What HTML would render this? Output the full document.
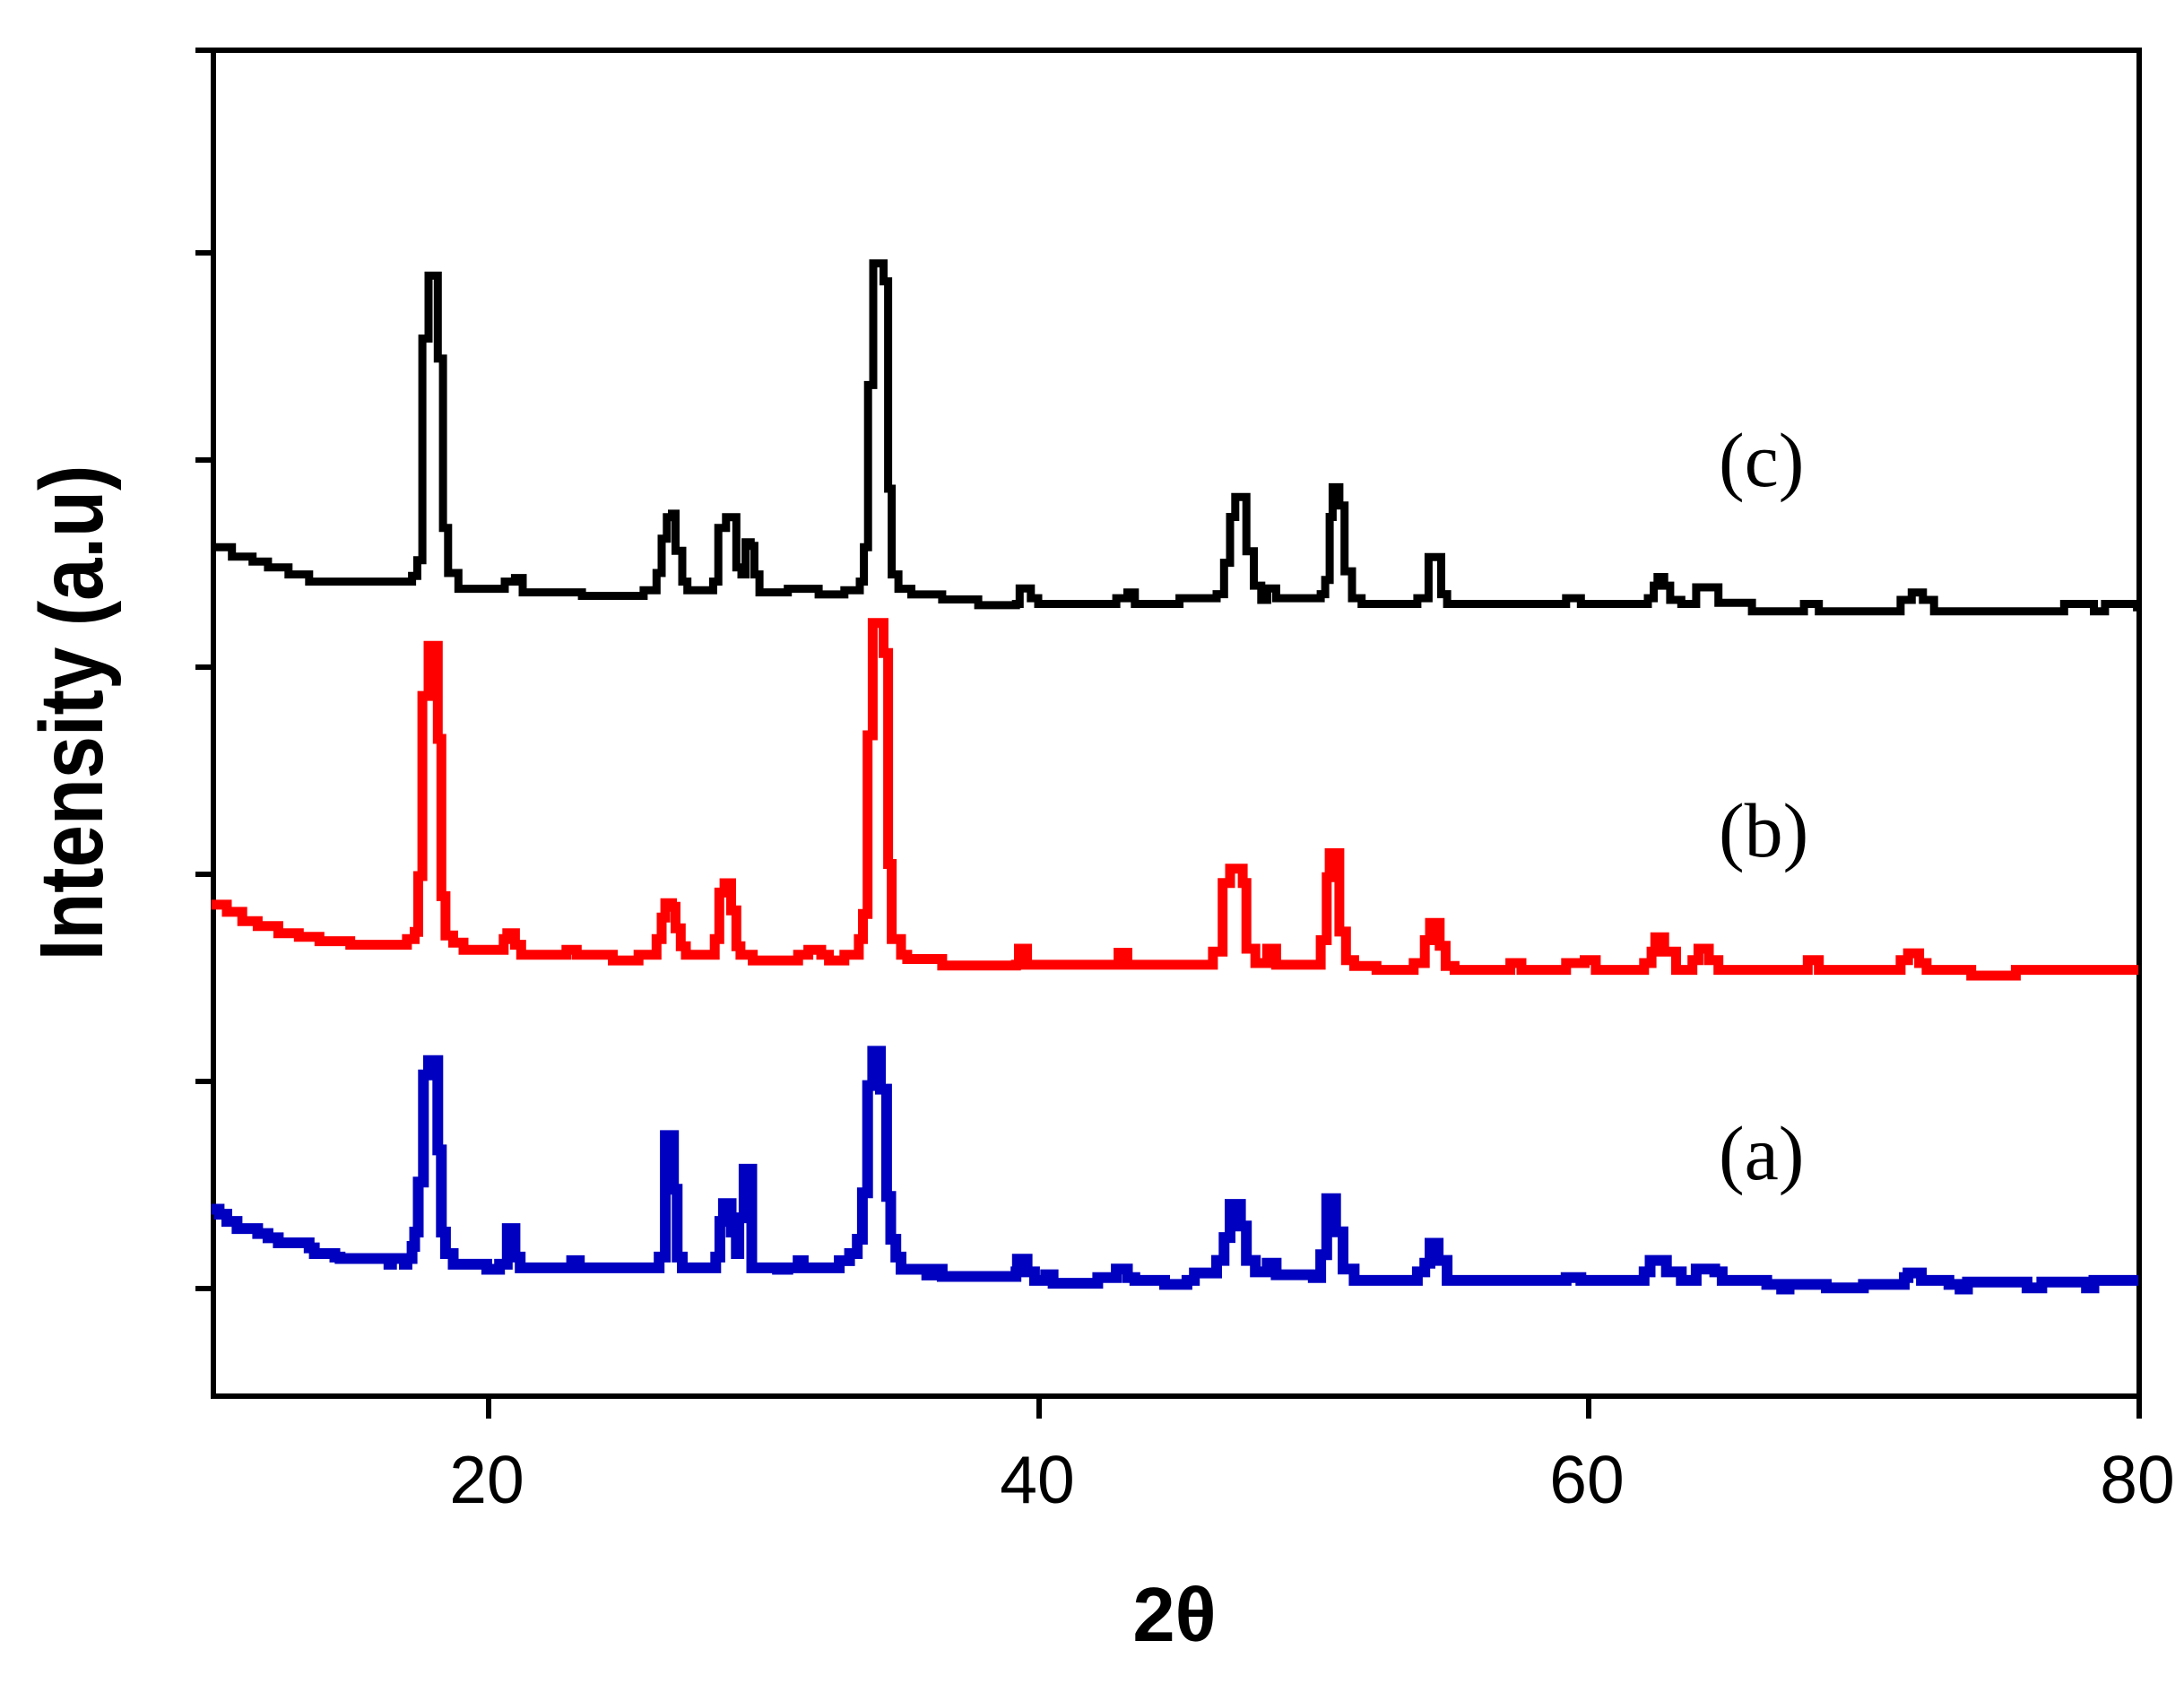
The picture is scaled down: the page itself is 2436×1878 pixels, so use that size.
<!DOCTYPE html>
<html><head><meta charset="utf-8"><style>
html,body{margin:0;padding:0;background:#fff;}
svg{display:block;}
</style></head><body>
<svg id="s" width="2436" height="1878" viewBox="0 0 2436 1878" xmlns="http://www.w3.org/2000/svg">
<rect width="2436" height="1878" fill="#fff"/>
<g stroke="#000" stroke-width="6" fill="none" stroke-linecap="butt">
<line x1="218" y1="56" x2="2389" y2="56"/>
<line x1="238" y1="53" x2="238" y2="1560"/>
<line x1="2386" y1="53" x2="2386" y2="1560"/>
<line x1="235" y1="1557" x2="2389" y2="1557"/>
<line x1="218" y1="282" x2="238" y2="282"/>
<line x1="218" y1="513" x2="238" y2="513"/>
<line x1="218" y1="744" x2="238" y2="744"/>
<line x1="218" y1="975" x2="238" y2="975"/>
<line x1="218" y1="1206" x2="238" y2="1206"/>
<line x1="218" y1="1437" x2="238" y2="1437"/>
<line x1="545" y1="1557" x2="545" y2="1582"/>
<line x1="1159" y1="1557" x2="1159" y2="1582"/>
<line x1="1772" y1="1557" x2="1772" y2="1582"/>
<line x1="2386" y1="1557" x2="2386" y2="1582"/>
</g>
<g font-family="Liberation Sans, sans-serif" font-size="75" fill="#000" text-anchor="middle">
<text x="543" y="1676">20</text>
<text x="1157" y="1676">40</text>
<text x="1770" y="1676">60</text>
<text x="2384" y="1676">80</text>
</g>
<text x="1310" y="1830" font-family="Liberation Sans, sans-serif" font-weight="bold" font-size="85" text-anchor="middle">2θ</text>
<text transform="translate(114,795) rotate(-90) scale(0.85,1)" font-family="Liberation Sans, sans-serif" font-weight="bold" font-size="100" text-anchor="middle">Intensity (a.u)</text>
<g font-family="Liberation Serif, serif" font-size="86" fill="#000">
<text x="1917" y="542">(c)</text>
<text x="1917" y="955">(b)</text>
<text x="1917" y="1315">(a)</text>
</g>
<path id="pc" fill="none" stroke="#000" stroke-width="9" stroke-linejoin="miter"/>
<path id="pb" fill="none" stroke="#ff0000" stroke-width="11" stroke-linejoin="miter"/>
<path id="pa" fill="none" stroke="#0000c0" stroke-width="12" stroke-linejoin="miter"/>
</svg>
<script>
function z7(p){return [230+p[0]/1.742, 250+p[1]/1.2544];}
function z8(p){return [1100+p[0]/1.206, 500+p[1]/1.568];}
function build(a7,a8){
  var pts=a7.map(z7).concat(a8.map(z8));
  var d="M"+pts[0][0].toFixed(1)+" "+pts[0][1].toFixed(1);
  for(var i=1;i<pts.length;i++){d+=" H"+pts[i][0].toFixed(1)+" V"+pts[i][1].toFixed(1);}
  return d;
}
var c7=[[10,452],[50,465],[90,472],[120,480],[160,490],[200,500],[400,492],[410,470],[420,160],[432,72],[448,72],[450,188],[458,188],[460,425],[470,488],[490,510],[580,500],[600,495],[615,515],[720,515],[730,520],[850,512],[875,488],[885,440],[895,410],[905,405],[912,457],[925,500],[935,512],[985,500],[995,425],[1010,410],[1020,410],[1030,480],[1040,490],[1048,445],[1058,450],[1065,490],[1075,515],[1130,510],[1190,518],[1240,512],[1270,500],[1278,452],[1286,225],[1296,55],[1308,55],[1316,80],[1325,370],[1332,490],[1345,510],[1370,518],[1430,525],[1500,533]];
var c8=[[40,272],[45,245],[60,262],[70,272],[175,262],[190,252],[200,272],[260,262],[310,255],[320,200],[328,120],[335,85],[345,85],[350,180],[360,240],[370,265],[378,245],[390,262],[450,255],[456,230],[462,120],[466,68],[475,100],[482,215],[492,262],[505,272],[580,262],[595,190],[605,190],[612,255],[620,272],[780,262],[800,272],[890,262],[898,240],[903,225],[912,240],[920,265],[935,272],[955,243],[975,243],[985,270],[1030,285],[1100,272],[1120,285],[1230,265],[1245,252],[1260,265],[1275,285],[1450,272],[1490,285],[1505,272],[1548,285]];
var b7=[[10,952],[40,962],[70,975],[100,982],[140,992],[180,997],[220,1003],[280,1008],[390,1000],[405,990],[412,912],[420,660],[432,590],[448,590],[450,720],[457,940],[465,995],[480,1005],[500,1015],[578,1000],[585,992],[600,1008],[612,1022],[700,1015],[720,1022],[790,1030],[840,1022],[875,1000],[885,970],[892,950],[905,955],[912,985],[922,1010],[932,1022],[988,1000],[997,935],[1007,922],[1020,960],[1030,1010],[1038,1022],[1062,1030],[1150,1022],[1170,1015],[1195,1022],[1210,1030],[1240,1022],[1268,1000],[1276,965],[1285,715],[1295,558],[1308,558],[1316,600],[1325,895],[1332,1000],[1350,1022],[1362,1028],[1430,1037]];
var b8=[[40,903],[44,875],[55,903],[178,882],[190,903],[305,880],[318,760],[328,735],[345,760],[350,875],[362,900],[378,875],[390,903],[450,860],[458,750],[462,708],[475,845],[484,895],[495,905],[525,912],[575,900],[590,860],[597,830],[610,870],[618,905],[630,912],[705,900],[720,912],[780,900],[805,895],[820,912],[885,900],[895,880],[900,855],[912,880],[928,912],[950,895],[958,875],[972,895],[985,912],[1105,895],[1120,912],[1230,895],[1240,883],[1255,900],[1265,912],[1325,922],[1385,912],[1550,912]];
var a7=[[10,1378],[25,1385],[40,1395],[60,1405],[100,1412],[120,1418],[140,1425],[200,1432],[210,1440],[250,1445],[260,1447],[355,1455],[360,1447],[385,1455],[390,1447],[400,1430],[405,1410],[412,1340],[422,1190],[432,1170],[448,1170],[450,1295],[457,1410],[465,1440],[480,1455],[545,1462],[570,1455],[585,1405],[600,1445],[610,1460],[710,1450],[725,1460],[880,1445],[892,1275],[908,1350],[915,1445],[925,1460],[990,1445],[998,1395],[1005,1370],[1020,1410],[1030,1440],[1035,1390],[1045,1322],[1060,1460],[1110,1462],[1130,1460],[1150,1450],[1160,1460],[1230,1450],[1250,1440],[1265,1420],[1275,1355],[1285,1205],[1295,1157],[1310,1210],[1322,1360],[1330,1420],[1340,1445],[1350,1462],[1400,1470],[1410,1462],[1430,1472]];
var a8=[[40,1440],[42,1418],[55,1440],[65,1455],[80,1445],[90,1460],[150,1450],[175,1435],[190,1450],[200,1455],[240,1462],[270,1455],[280,1442],[310,1420],[320,1380],[328,1322],[342,1360],[350,1420],[362,1440],[378,1425],[390,1445],[440,1450],[450,1410],[458,1312],[470,1370],[480,1435],[495,1455],[580,1440],[590,1425],[597,1390],[608,1420],[620,1455],[780,1450],[800,1455],[885,1440],[893,1420],[905,1420],[915,1440],[935,1455],[955,1435],[980,1440],[990,1455],[1050,1462],[1070,1470],[1080,1462],[1130,1468],[1180,1462],[1235,1450],[1240,1442],[1258,1455],[1295,1462],[1310,1470],[1320,1458],[1400,1468],[1420,1458],[1480,1468],[1490,1455],[1550,1455]];
document.getElementById('pc').setAttribute('d',build(c7,c8));
document.getElementById('pb').setAttribute('d',build(b7,b8));
document.getElementById('pa').setAttribute('d',build(a7,a8));
</script>
</body></html>
